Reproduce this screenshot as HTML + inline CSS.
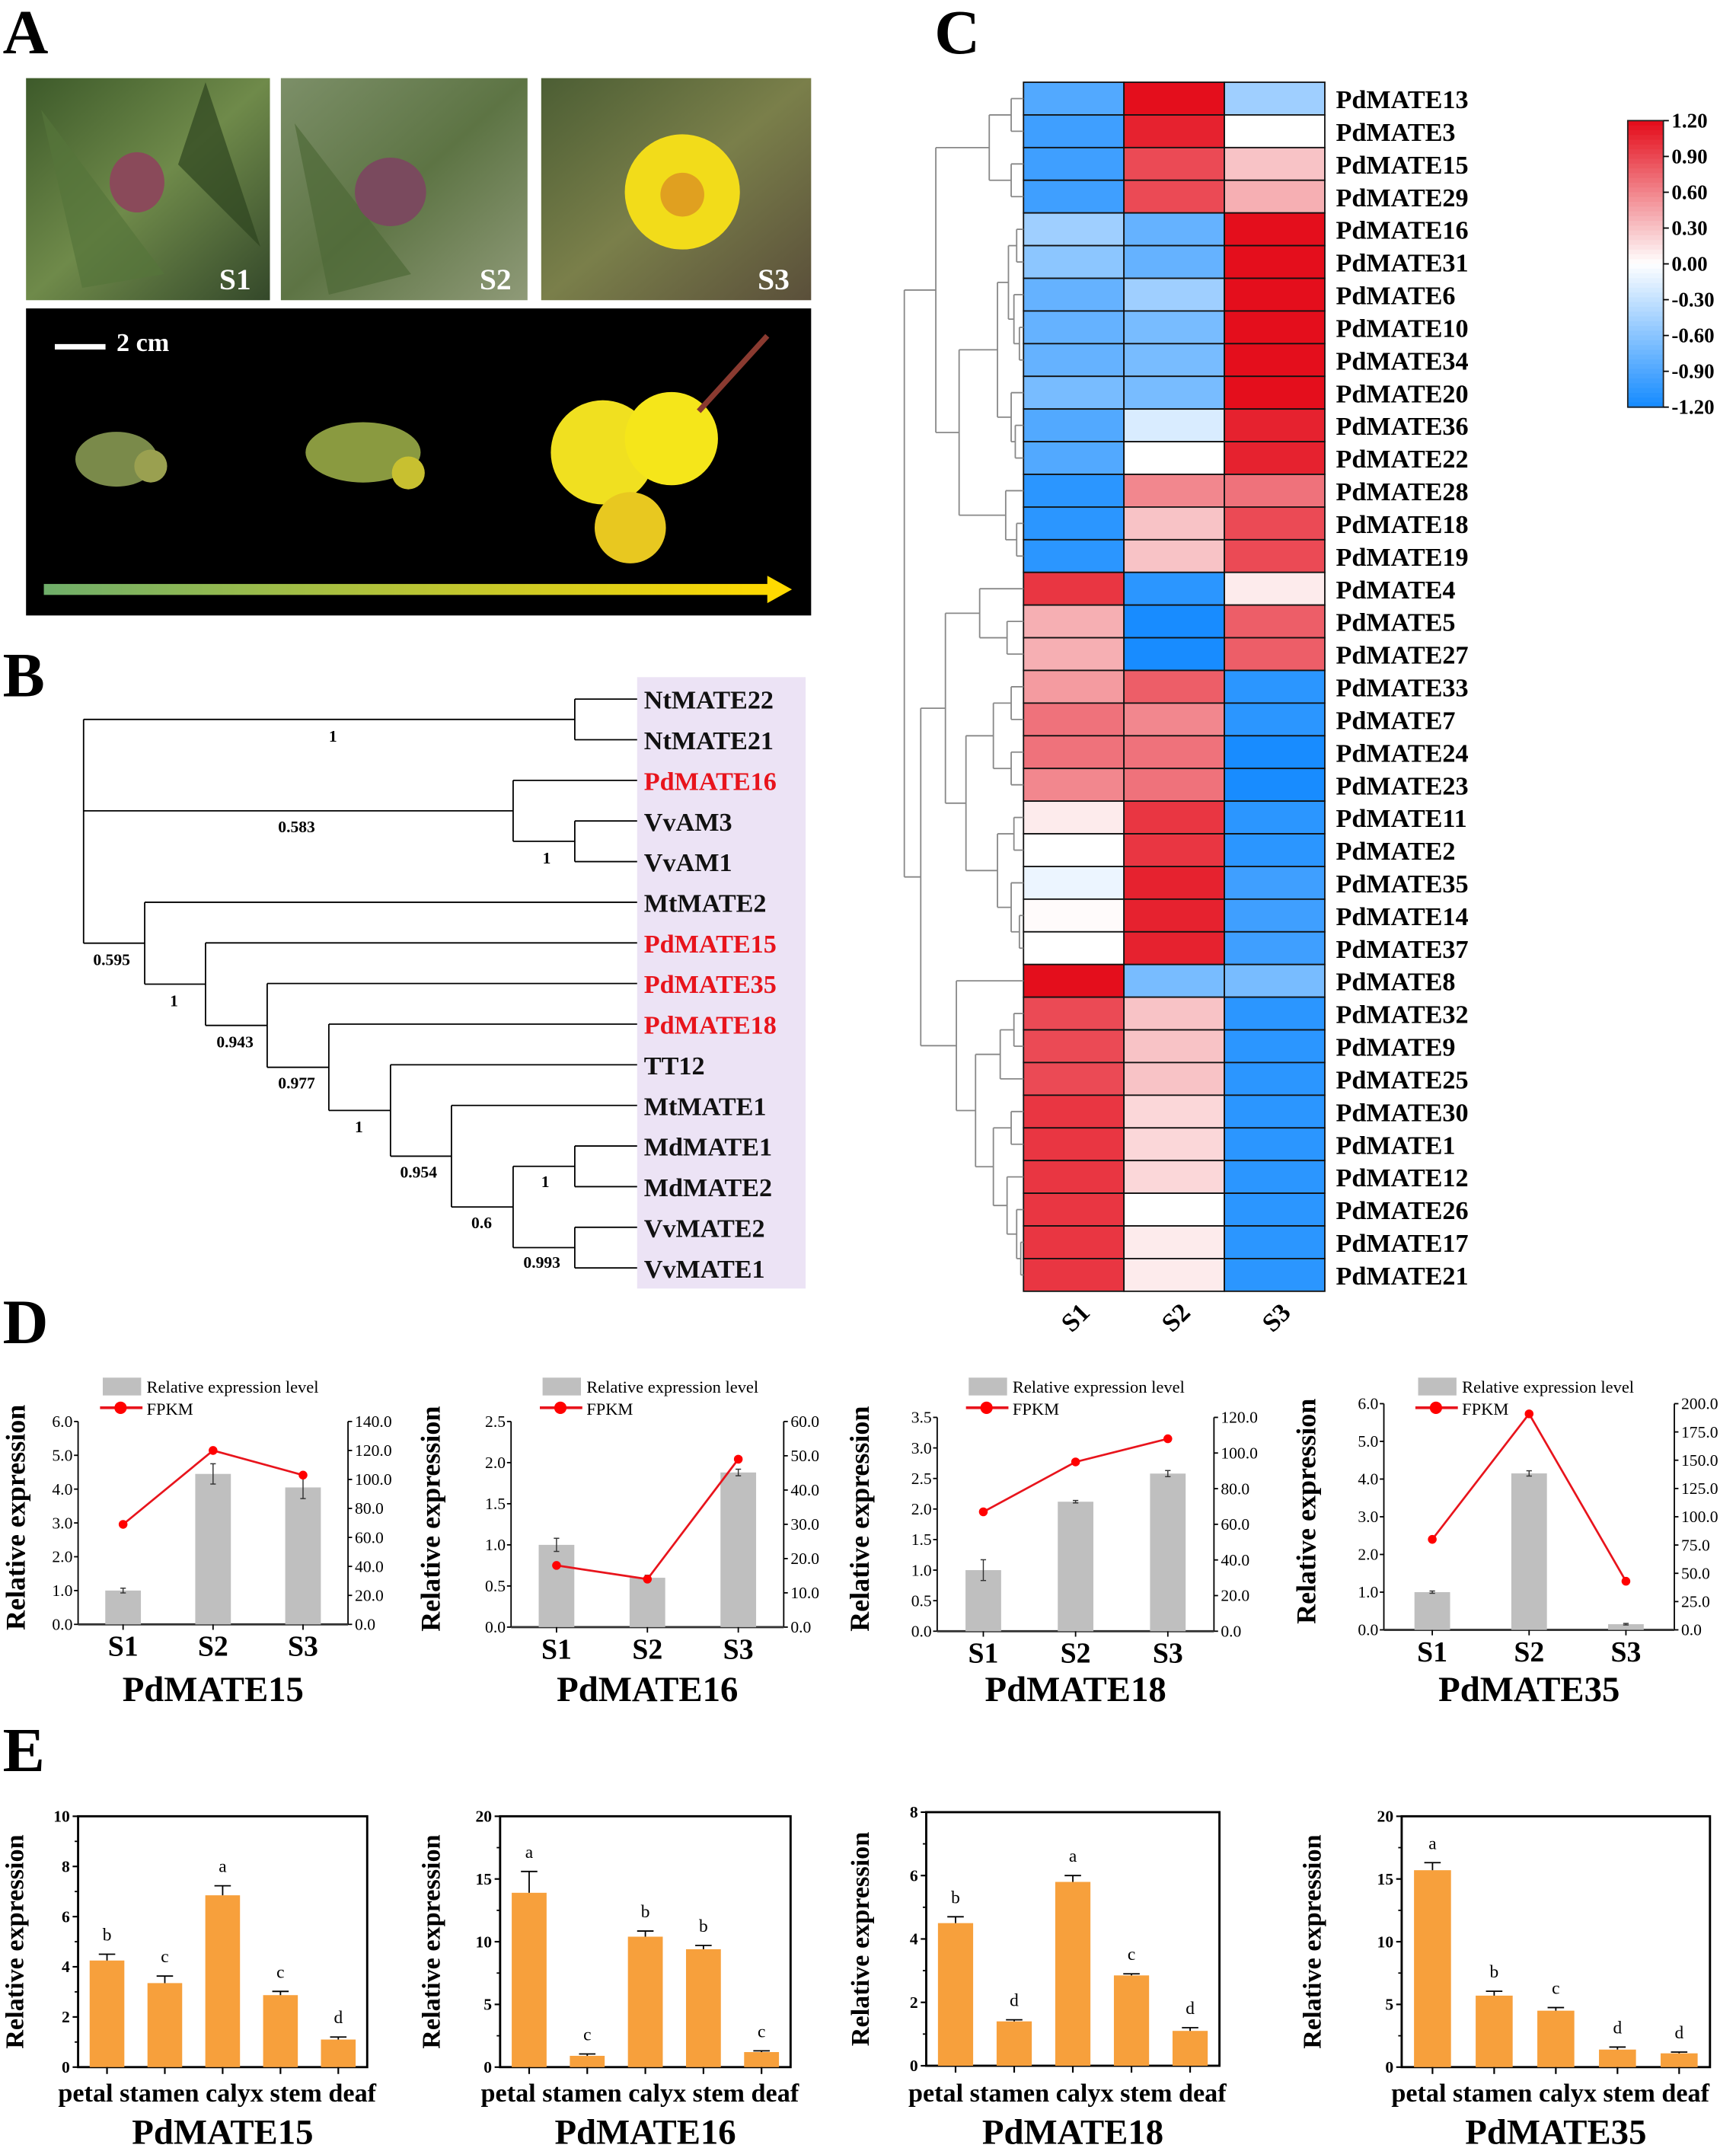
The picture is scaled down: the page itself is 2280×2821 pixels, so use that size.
<!DOCTYPE html>
<html><head><meta charset="utf-8"><style>
html,body{margin:0;padding:0;background:#fff;}
svg{display:block;}
text{font-family:"Liberation Serif",serif;}
</style></head>
<body>
<svg id="fig" xmlns="http://www.w3.org/2000/svg" width="2280" height="2821" viewBox="0 0 1267 1567" preserveAspectRatio="none">
<rect x="0" y="0" width="1267" height="1567" fill="#fff"/>
<text x="2" y="39" font-size="46" font-weight="bold">A</text>
<text x="2" y="508" font-size="46" font-weight="bold">B</text>
<text x="682" y="39" font-size="46" font-weight="bold">C</text>
<text x="2" y="980" font-size="46" font-weight="bold">D</text>
<text x="2" y="1292" font-size="46" font-weight="bold">E</text>

<defs>
<linearGradient id="leafA" x1="0" y1="0" x2="1" y2="1"><stop offset="0" stop-color="#3d5a2a"/><stop offset="0.5" stop-color="#6f8a4a"/><stop offset="1" stop-color="#34482a"/></linearGradient>
<linearGradient id="leafB" x1="0" y1="0" x2="1" y2="1"><stop offset="0" stop-color="#7c8f68"/><stop offset="0.5" stop-color="#5d7444"/><stop offset="1" stop-color="#8f9a78"/></linearGradient>
<linearGradient id="leafC" x1="0" y1="0" x2="1" y2="1"><stop offset="0" stop-color="#4c5e34"/><stop offset="0.5" stop-color="#7a7f4a"/><stop offset="1" stop-color="#5a4f3a"/></linearGradient>
<linearGradient id="arrowGrad" x1="0" y1="0" x2="1" y2="0"><stop offset="0" stop-color="#6fae6a"/><stop offset="1" stop-color="#ffd900"/></linearGradient>
</defs>
<g>
<rect x="19" y="57" width="178" height="162" fill="url(#leafA)"/>
<path d="M30 80 L120 200 L60 210 Z" fill="#56753a" opacity="0.7"/>
<path d="M150 60 L190 180 L130 120 Z" fill="#2e4420" opacity="0.7"/>
<ellipse cx="100" cy="133" rx="20" ry="22" fill="#8a4a5a"/>
<text x="160" y="211" font-size="22" font-weight="bold" fill="#fff">S1</text>
</g>
<g>
<rect x="205" y="57" width="180" height="162" fill="url(#leafB)"/>
<path d="M215 90 L300 200 L240 215 Z" fill="#4e6a38" opacity="0.7"/>
<ellipse cx="285" cy="140" rx="26" ry="25" fill="#7a4a5e"/>
<text x="350" y="211" font-size="22" font-weight="bold" fill="#fff">S2</text>
</g>
<g>
<rect x="395" y="57" width="197" height="162" fill="url(#leafC)"/>
<circle cx="498" cy="140" r="42" fill="#f2dc1a"/>
<circle cx="498" cy="142" r="16" fill="#e0a020"/>
<text x="553" y="211" font-size="22" font-weight="bold" fill="#fff">S3</text>
</g>
<g>
<rect x="19" y="225" width="573" height="224" fill="#000"/>
<rect x="40" y="251" width="37" height="4" fill="#fff"/>
<text x="85" y="256" font-size="19" font-weight="bold" fill="#fff">2 cm</text>
<ellipse cx="85" cy="335" rx="30" ry="20" fill="#7a8a4a"/>
<circle cx="110" cy="340" r="12" fill="#9aa050"/>
<ellipse cx="265" cy="330" rx="42" ry="22" fill="#8a9a40"/>
<circle cx="298" cy="345" r="12" fill="#c8c030"/>
<circle cx="440" cy="330" r="38" fill="#f0e020"/>
<circle cx="490" cy="320" r="34" fill="#f5e61a"/>
<circle cx="460" cy="385" r="26" fill="#e8c820"/>
<path d="M510 300 L560 245" stroke="#8a3a30" stroke-width="4"/>
<rect x="32" y="426" width="530" height="8" fill="url(#arrowGrad)"/>
<polygon points="560,420 578,430 560,440" fill="#ffd900"/>
</g>

<rect x="465" y="494" width="123" height="446" fill="#ece3f5"/>
<g id="treeB"></g>
<g id="heat"></g>
<g id="dend"></g>
<g id="cbar"></g>
<g id="panelD"></g>
<g id="panelE"></g>
</svg>
<script>
const hmGenes = ["PdMATE13","PdMATE3","PdMATE15","PdMATE29","PdMATE16","PdMATE31","PdMATE6","PdMATE10","PdMATE34","PdMATE20","PdMATE36","PdMATE22","PdMATE28","PdMATE18","PdMATE19","PdMATE4","PdMATE5","PdMATE27","PdMATE33","PdMATE7","PdMATE24","PdMATE23","PdMATE11","PdMATE2","PdMATE35","PdMATE14","PdMATE37","PdMATE8","PdMATE32","PdMATE9","PdMATE25","PdMATE30","PdMATE1","PdMATE12","PdMATE26","PdMATE17","PdMATE21"];
const hmS1 = [-0.9,-1.0,-1.0,-1.0,-0.5,-0.6,-0.8,-0.8,-0.8,-0.7,-0.9,-0.9,-1.1,-1.1,-1.1,1.0,0.4,0.4,0.5,0.7,0.7,0.6,0.1,0.0,-0.1,0.02,0.0,1.2,0.9,0.9,0.9,1.0,1.0,1.0,1.0,1.0,1.0];
const hmS2 = [1.2,1.1,0.9,0.9,-0.8,-0.8,-0.5,-0.7,-0.7,-0.7,-0.2,0.0,0.6,0.3,0.3,-1.1,-1.2,-1.2,0.8,0.6,0.7,0.7,1.0,1.0,1.1,1.1,1.1,-0.7,0.3,0.3,0.3,0.2,0.2,0.2,0.0,0.1,0.1];
const hmS3 = [-0.5,0.0,0.3,0.4,1.2,1.2,1.2,1.2,1.2,1.2,1.1,1.1,0.7,0.9,0.9,0.1,0.8,0.8,-1.1,-1.1,-1.2,-1.2,-1.1,-1.1,-1.0,-1.0,-1.0,-0.7,-1.1,-1.1,-1.1,-1.1,-1.1,-1.1,-1.1,-1.1,-1.1];
const hmCols = ["S1","S2","S3"];
const cbTicks = ["1.20","0.90","0.60","0.30","0.00","-0.30","-0.60","-0.90","-1.20"];

const dStages = ["S1","S2","S3"];
const d15Rel = [1.0,4.45,4.05], d15Err = [0.07,0.3,0.33], d15Fpkm = [69,120,103];
const d16Rel = [1.0,0.6,1.88], d16Err = [0.08,0.03,0.04], d16Fpkm = [18,14,49];
const d18Rel = [1.0,2.12,2.58], d18Err = [0.17,0.02,0.05], d18Fpkm = [67,95,108];
const d35Rel = [1.0,4.15,0.15], d35Err = [0.03,0.07,0.02], d35Fpkm = [80,191,43];
const d15LeftTicks = ["0.0","1.0","2.0","3.0","4.0","5.0","6.0"], d15RightTicks = ["0.0","20.0","40.0","60.0","80.0","100.0","120.0","140.0"];
const d16LeftTicks = ["0.0","0.5","1.0","1.5","2.0","2.5"], d16RightTicks = ["0.0","10.0","20.0","30.0","40.0","50.0","60.0"];
const d18LeftTicks = ["0.0","0.5","1.0","1.5","2.0","2.5","3.0","3.5"], d18RightTicks = ["0.0","20.0","40.0","60.0","80.0","100.0","120.0"];
const d35LeftTicks = ["0.0","1.0","2.0","3.0","4.0","5.0","6.0"], d35RightTicks = ["0.0","25.0","50.0","75.0","100.0","125.0","150.0","175.0","200.0"];

const eTissues = ["petal","stamen","calyx","stem","deaf"];
const e15Vals = [4.25,3.35,6.85,2.87,1.1], e15Err = [0.25,0.28,0.38,0.15,0.1], e15Letters = ["b","c","a","c","d"];
const e16Vals = [13.9,0.9,10.4,9.4,1.2], e16Err = [1.7,0.15,0.45,0.3,0.1], e16Letters = ["a","c","b","b","c"];
const e18Vals = [4.5,1.4,5.8,2.85,1.1], e18Err = [0.2,0.05,0.2,0.05,0.1], e18Letters = ["b","d","a","c","d"];
const e35Vals = [15.7,5.7,4.5,1.4,1.1], e35Err = [0.6,0.35,0.25,0.2,0.1], e35Letters = ["a","b","c","d","d"];
const e15Ticks = [0,2,4,6,8,10], e16Ticks = [0,5,10,15,20], e18Ticks = [0,2,4,6,8], e35Ticks = [0,5,10,15,20];

const NS = "http://www.w3.org/2000/svg";
function mk(tag, attrs, parent){ const e=document.createElementNS(NS,tag); for(const k in attrs) e.setAttribute(k,attrs[k]); parent.appendChild(e); return e; }
function tx(parent,x,y,s,size,extra){ const a={x:x,y:y,"font-size":size}; if(extra) for(const k in extra) a[k]=extra[k]; const e=mk("text",a,parent); e.textContent=s; return e; }

const treeLeaves = ["NtMATE22","NtMATE21","PdMATE16","VvAM3","VvAM1","MtMATE2","PdMATE15","PdMATE35","PdMATE18","TT12","MtMATE1","MdMATE1","MdMATE2","VvMATE2","VvMATE1"];
const treeRed = [false,false,true,false,false,false,true,true,true,false,false,false,false,false,false];
(function(){
  const g=document.getElementById("treeB");
  const leafX=465, y0=510, dy=29.64;
  const ly=i=>y0+i*dy;
  const line=(x1,y1,x2,y2)=>mk("line",{x1:x1,y1:y1,x2:x2,y2:y2,stroke:"#000","stroke-width":1},g);
  function draw(n){ if(typeof n==="number"){ return {x:leafX,y:ly(n)}; }
    const kids=n.slice(1).map(draw); const ys=kids.map(k=>k.y);
    kids.forEach(k=>line(n[0],k.y,k.x,k.y));
    line(n[0],Math.min(...ys),n[0],Math.max(...ys));
    return {x:n[0],y:(Math.min(...ys)+Math.max(...ys))/2}; }
  const tree=[61,[419.5,0,1],[374.5,2,[419.5,3,4]],[105.6,5,[150,6,[195,7,[240,8,[285,9,[329.5,10,[374.5,[419.5,11,12],[419.5,13,14]]]]]]]]];
  draw(tree);
  treeLeaves.forEach((s,i)=>{ const t=tx(g,470,ly(i)+7,s,19,{"font-weight":"bold",fill:treeRed[i]?"#e8141c":"#111"});
    
     });
  const boot=[["1",240,541],["0.583",203,607],["1",396,630],["0.595",68,704],["1",124,734],["0.943",158,764],["0.977",203,794],["1",259,826],["0.954",292,859],["1",395,866],["0.6",344,896],["0.993",382,925]];
  boot.forEach(b=>{ const t=tx(g,b[1],b[2],b[0],12,{"font-weight":"bold"});
    
     });
})();

(function(){
  const g=document.getElementById("heat");
  const x0=747, y0=60, cw=73.3, rh=(942-60)/37;
  function col(v){ let t=Math.max(-1,Math.min(1,v/1.2));
    let c0=[255,255,255], c1 = t<0 ? [24,140,255] : [228,14,28]; const a=Math.abs(t);
    return "rgb("+c0.map((c,i)=>Math.round(c+(c1[i]-c)*a)).join(",")+")"; }
  const series=[hmS1,hmS2,hmS3];
  hmGenes.forEach((gname,r)=>{
    series.forEach((arr,c)=>{ const rc=mk("rect",{x:x0+c*cw,y:y0+r*rh,width:cw,height:rh,fill:col(arr[r]),stroke:"#111","stroke-width":1},g);
      
       });
    const t=tx(g,975,y0+r*rh+rh/2+7,gname,19,{"font-weight":"bold"});
    
    
  });
  hmCols.forEach((s,c)=>{ const cx=x0+c*cw+cw/2; const t=tx(g,cx-10,968,s,19,{"font-weight":"bold",transform:"rotate(-45 "+(cx)+" 960)"});
    
     });
  const d=document.getElementById("dend");
  const line=(x1,y1,x2,y2)=>mk("line",{x1:x1,y1:y1,x2:x2,y2:y2,stroke:"#888","stroke-width":1},d);
  function draw(n){ if(typeof n==="number") return {x:x0,y:y0+(n+0.5)*rh};
    const k=n.slice(1).map(draw); k.forEach(q=>line(n[0],q.y,q.x,q.y)); line(n[0],k[0].y,n[0],k[1].y); return {x:n[0],y:(k[0].y+k[1].y)/2}; }
  const upper=[683,[722,[738,0,1],[738,2,3]],[700,[728,[736,[742,4,5],[740,6,[744,7,8]]],[738,9,[741,10,11]]],[734,12,[742,13,14]]]];
  const mid=[690,[715,15,[735,16,17]],[705,[725,[738,18,19],[738,20,21]],[728,[740,22,23],[738,24,[744,25,26]]]]];
  const low=[698,27,[712,[730,[740,28,29],30],[725,[738,31,32],[735,33,[742,34,[745,35,36]]]]]];
  draw([660,upper,[672,mid,low]]);
  const cb=document.getElementById("cbar");
  const N=60, top=88, bot=297;
  for(let i=0;i<N;i++){ const v=1.2-2.4*(i/(N-1)); mk("rect",{x:1188,y:top+(bot-top)*i/N,width:26,height:(bot-top)/N+0.6,fill:col(v)},cb); }
  mk("rect",{x:1188,y:top,width:26,height:bot-top,fill:"none",stroke:"#222","stroke-width":1},cb);
  cbTicks.forEach((s,i)=>{ const y=top+(bot-top)*i/(cbTicks.length-1);
    mk("line",{x1:1214,y1:y,x2:1218,y2:y,stroke:"#000"},cb);
    const t=tx(cb,1220,y+5,s,15,{"font-weight":"bold"});
    
     });
})();

function chartD(cfg, rel, err, fpkm, lt, rt){
  const g=mk("g",{},document.getElementById("panelD"));
  
  
  const yL=v=>cfg.bot-(v/cfg.lmax)*(cfg.bot-cfg.top);
  const yR=v=>cfg.bot-(v/cfg.rmax)*(cfg.bot-cfg.top);
  const xs=i=>cfg.left+(cfg.right-cfg.left)*(i*2+1)/6;
  mk("line",{x1:cfg.left,y1:cfg.top,x2:cfg.left,y2:cfg.bot,stroke:"#000","stroke-width":1},g);
  mk("line",{x1:cfg.right,y1:cfg.top,x2:cfg.right,y2:cfg.bot,stroke:"#000","stroke-width":1},g);
  mk("line",{x1:cfg.left,y1:cfg.bot,x2:cfg.right,y2:cfg.bot,stroke:"#333","stroke-width":1.6},g);
  lt.forEach((s,i)=>{ const v=parseFloat(s), y=yL(v); mk("line",{x1:cfg.left-3,y1:y,x2:cfg.left,y2:y,stroke:"#000"},g);
    const t=tx(g,cfg.left-4,y+4,s,12,{"text-anchor":"end"});   });
  rt.forEach((s,i)=>{ const v=parseFloat(s), y=yR(v); mk("line",{x1:cfg.right,y1:y,x2:cfg.right+3,y2:y,stroke:"#000"},g);
    const t=tx(g,cfg.right+5,y+4,s,12,{});   });
  rel.forEach((v,i)=>{ const x=xs(i);
    const b=mk("rect",{x:x-13,y:yL(v),width:26,height:cfg.bot-yL(v),fill:"#bfbfbf"},g);
    
    
    mk("line",{x1:x,y1:yL(v+err[i]),x2:x,y2:yL(v-err[i]),stroke:"#333","stroke-width":0.8},g);
    mk("line",{x1:x-2,y1:yL(v+err[i]),x2:x+2,y2:yL(v+err[i]),stroke:"#333","stroke-width":0.8},g);
    mk("line",{x1:x-2,y1:yL(v-err[i]),x2:x+2,y2:yL(v-err[i]),stroke:"#333","stroke-width":0.8},g);
    mk("line",{x1:x,y1:cfg.bot,x2:x,y2:cfg.bot+4,stroke:"#000"},g);
    const t=tx(g,x,cfg.bot+23,dStages[i],21,{"font-weight":"bold","text-anchor":"middle"});
     
  });
  const pl=mk("polyline",{points:fpkm.map((v,i)=>xs(i)+","+yR(v)).join(" "),fill:"none",stroke:"#e8141c","stroke-width":1.5},g);
   
  fpkm.forEach((v,i)=>{ const c=mk("circle",{cx:xs(i),cy:yR(v),r:3.2,fill:"#f00"},g);
      });
  mk("rect",{x:cfg.lx,y:1005,width:28,height:13,fill:"#bfbfbf"},g);
  tx(g,cfg.lx+32,1016,"Relative expression level",12.5,{});
  mk("line",{x1:cfg.lx-2,y1:1027,x2:cfg.lx+29,y2:1027,stroke:"#e8141c","stroke-width":2},g);
  mk("circle",{cx:cfg.lx+13,cy:1027,r:4.5,fill:"#f00"},g);
  tx(g,cfg.lx+32,1032,"FPKM",12.5,{});
  const yl=tx(g,cfg.ylx,(cfg.top+cfg.bot)/2-4,"Relative expression",20,{"font-weight":"bold","text-anchor":"middle",transform:"rotate(-90 "+cfg.ylx+" "+((cfg.top+cfg.bot)/2-4)+")"});
   
  const tt=tx(g,(cfg.left+cfg.right)/2,1241,cfg.name,26,{"font-weight":"bold","text-anchor":"middle"});
   
}
chartD({name:"PdMATE15",left:57,right:254,top:1037,bot:1185,lmax:6,rmax:140,lx:75,ylx:18},d15Rel,d15Err,d15Fpkm,d15LeftTicks,d15RightTicks);
chartD({name:"PdMATE16",left:373,right:572,top:1037,bot:1187,lmax:2.5,rmax:60,lx:396,ylx:321},d16Rel,d16Err,d16Fpkm,d16LeftTicks,d16RightTicks);
chartD({name:"PdMATE18",left:684,right:886,top:1034,bot:1190,lmax:3.5,rmax:120,lx:707,ylx:634},d18Rel,d18Err,d18Fpkm,d18LeftTicks,d18RightTicks);
chartD({name:"PdMATE35",left:1010,right:1222,top:1024,bot:1189,lmax:6,rmax:200,lx:1035,ylx:960},d35Rel,d35Err,d35Fpkm,d35LeftTicks,d35RightTicks);

function chartE(cfg, vals, err, letters, ticks){
  const g=mk("g",{},document.getElementById("panelE"));
  
  
  const max=ticks[ticks.length-1];
  const y=v=>cfg.bot-(v/max)*(cfg.bot-cfg.top);
  const n=vals.length, w=(cfg.right-cfg.left)/n;
  const xs=i=>cfg.left+w*(i+0.5);
  mk("rect",{x:cfg.left,y:cfg.top,width:cfg.right-cfg.left,height:cfg.bot-cfg.top,fill:"none",stroke:"#000","stroke-width":1.6},g);
  ticks.forEach((v,i)=>{ mk("line",{x1:cfg.left-4,y1:y(v),x2:cfg.left,y2:y(v),stroke:"#000","stroke-width":1.2},g);
    if(i<ticks.length-1){ const m=(v+ticks[i+1])/2; mk("line",{x1:cfg.left-2.5,y1:y(m),x2:cfg.left,y2:y(m),stroke:"#000","stroke-width":1},g); }
    const t=tx(g,cfg.left-6,y(v)+4,String(v),12,{"font-weight":"bold","text-anchor":"end"});
      });
  vals.forEach((v,i)=>{ const x=xs(i);
    const b=mk("rect",{x:x-w*0.3,y:y(v),width:w*0.6,height:cfg.bot-y(v),fill:"#f7a03c"},g);
     
    mk("line",{x1:x,y1:y(v),x2:x,y2:y(v+err[i]),stroke:"#000","stroke-width":1},g);
    mk("line",{x1:x-6,y1:y(v+err[i]),x2:x+6,y2:y(v+err[i]),stroke:"#000","stroke-width":1},g);
    mk("line",{x1:x,y1:cfg.bot,x2:x,y2:cfg.bot+5,stroke:"#000","stroke-width":1.2},g);
    const l=tx(g,x,y(v+err[i])-10,letters[i],13,{"text-anchor":"middle"});
     
  });
  const cl=tx(g,(cfg.left+cfg.right)/2-4,1533,eTissues.join(" "),19,{"font-weight":"bold","text-anchor":"middle"});
   
  const yl=tx(g,cfg.ylx,(cfg.top+cfg.bot)/2,"Relative expression",19,{"font-weight":"bold","text-anchor":"middle",transform:"rotate(-90 "+cfg.ylx+" "+((cfg.top+cfg.bot)/2)+")"});
   
  const tt=tx(g,(cfg.left+cfg.right)/2,1564,cfg.name,26,{"font-weight":"bold","text-anchor":"middle"});
   
}
chartE({name:"PdMATE15",left:57,right:268,top:1325,bot:1508,ylx:17},e15Vals,e15Err,e15Letters,e15Ticks);
chartE({name:"PdMATE16",left:365,right:577,top:1325,bot:1508,ylx:321},e16Vals,e16Err,e16Letters,e16Ticks);
chartE({name:"PdMATE18",left:676,right:890,top:1322,bot:1507,ylx:634},e18Vals,e18Err,e18Letters,e18Ticks);
chartE({name:"PdMATE35",left:1023,right:1248,top:1325,bot:1508,ylx:964},e35Vals,e35Err,e35Letters,e35Ticks);
</script>
</body></html>
